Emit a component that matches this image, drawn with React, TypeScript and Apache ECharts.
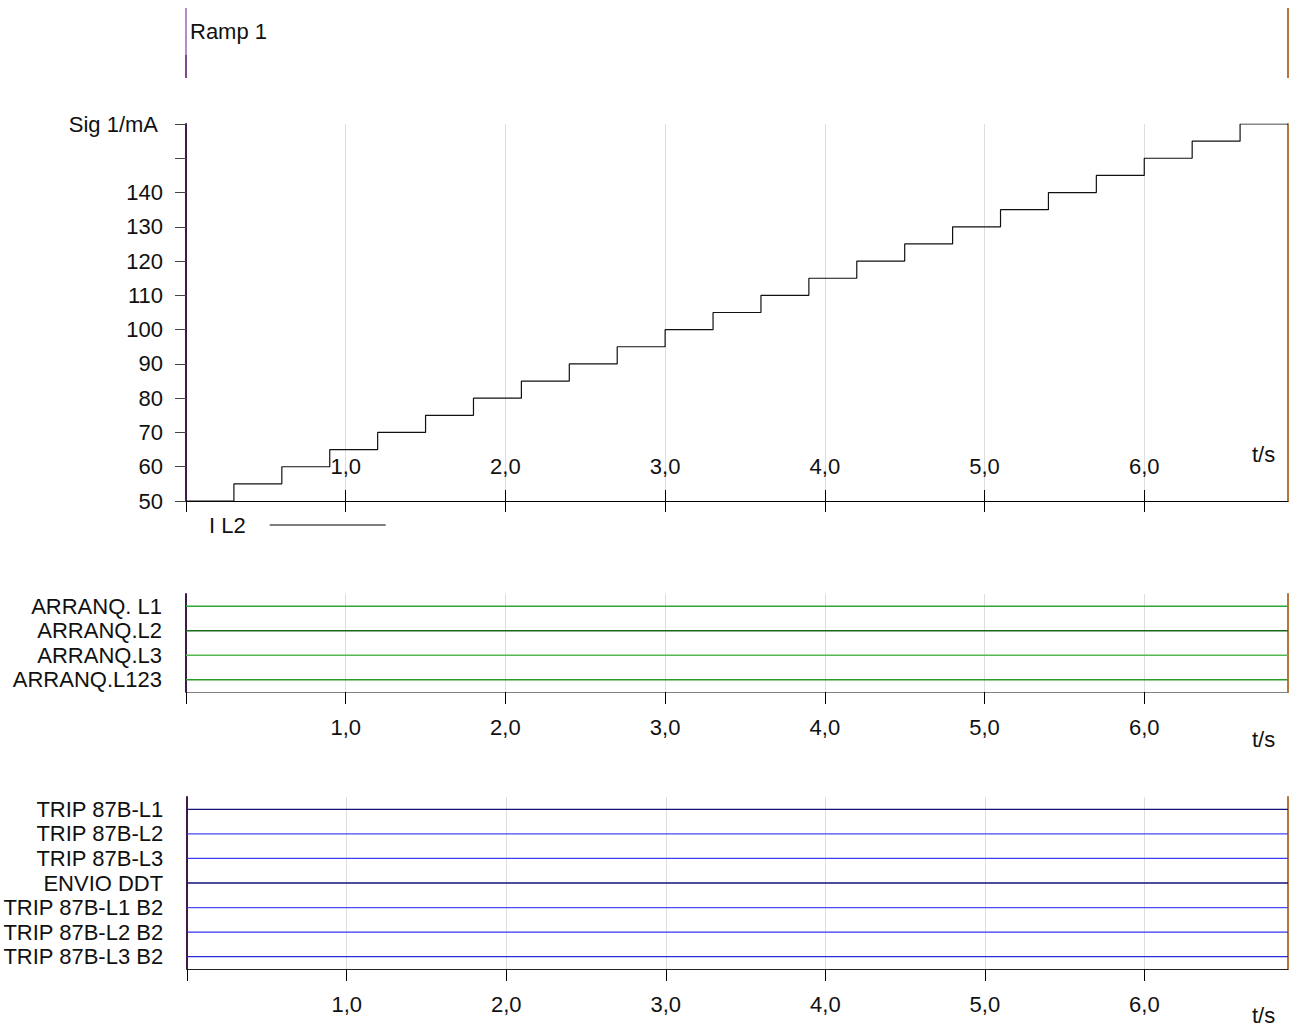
import React, { useEffect, useRef } from 'react';
import * as echarts from 'echarts';

// ---------- data ----------
const rampTimes = [0, 0.3, 0.6, 0.9, 1.2, 1.5, 1.8, 2.1, 2.4, 2.7, 3.0, 3.3, 3.6, 3.9, 4.2, 4.5, 4.8, 5.1, 5.4, 5.7, 6.0, 6.3, 6.6, 6.9];
const rampValues = [50, 55, 60, 65, 70, 75, 80, 85, 90, 95, 100, 105, 110, 115, 120, 125, 130, 135, 140, 145, 150, 155, 160, 160];
const T_MAX = 6.9;
const xTickValues = [0, 1, 2, 3, 4, 5, 6];
const xLabelValues = [1, 2, 3, 4, 5, 6];
const Y_MIN = 50;
const Y_MAX = 160;
const Y_INTERVAL = 10;

const startSignals = ['ARRANQ. L1', 'ARRANQ.L2', 'ARRANQ.L3', 'ARRANQ.L123'];
const startColors = ['#33a533', '#1a6a1a', '#55b855', '#2a9a2a'];
const tripSignals = ['TRIP 87B-L1', 'TRIP 87B-L2', 'TRIP 87B-L3', 'ENVIO DDT', 'TRIP 87B-L1 B2', 'TRIP 87B-L2 B2', 'TRIP 87B-L3 B2'];
const tripColors = ['#12127a', '#4646f5', '#3c3cf0', '#12127a', '#4a4af8', '#3636ee', '#2a2ad6'];
const signalTimes = [0, 6.9];

const FONT = '"Liberation Sans", Arial, Helvetica, sans-serif';
const FS = 22;
const TXT = '#111';
const PURPLE = '#3d1a4a';
const ORANGE = '#b5763a';

export default function App() {
  const ref = useRef<HTMLDivElement>(null);
  useEffect(() => {
    const chart = echarts.init(ref.current!, null, { renderer: 'svg' });
    const fmtX = (v: number) =>
      v > 0 && Math.abs(v - Math.round(v)) < 1e-6 ? v.toFixed(1).replace('.', ',') : '';

    const bottomX = (gridIndex: number, lineColor: string) => ({
      type: 'value',
      gridIndex,
      min: 0,
      max: T_MAX,
      interval: 1,
      position: 'bottom',
      axisLine: { show: true, onZero: false, lineStyle: { color: lineColor, width: 1 } },
      axisTick: { show: true, length: 12, customValues: xTickValues, lineStyle: { color: '#000' } },
      axisLabel: { margin: 24, fontSize: FS, color: TXT, fontFamily: FONT, formatter: fmtX, customValues: xLabelValues },
      splitLine: { show: true, lineStyle: { color: '#dedede', width: 1 } },
    });

    const catLeft = (gridIndex: number, data: string[]) => ({
      type: 'category',
      gridIndex,
      data,
      inverse: true,
      position: 'left',
      axisLine: { show: true, onZero: false, lineStyle: { color: PURPLE, width: 2 } },
      axisTick: { show: false },
      axisLabel: { interval: 0, margin: 24, fontSize: FS, color: TXT, fontFamily: FONT },
      splitLine: { show: false },
    });
    const catRight = (gridIndex: number, data: string[]) => ({
      type: 'category',
      gridIndex,
      data,
      inverse: true,
      position: 'right',
      axisLine: { show: true, onZero: false, lineStyle: { color: ORANGE, width: 2 } },
      axisTick: { show: false },
      axisLabel: { show: false },
      splitLine: { show: false },
    });

    const option: any = {
      animation: false,
      textStyle: { fontFamily: FONT },
      grid: [
        { left: 186, right: 1, top: 124, height: 377 },
        { left: 186, right: 1, top: 594, height: 98 },
        { left: 186, right: 1, top: 797, height: 172 },
      ],
      legend: {
        data: [{ name: 'I L2', icon: 'rect' }],
        left: 204,
        top: 509,
        align: 'right',
        itemWidth: 116,
        itemHeight: 1,
        itemStyle: { color: '#000' },
        textStyle: { fontSize: FS, color: TXT, fontFamily: FONT, padding: [0, 19, 0, 0] },
      },
      xAxis: [
        {
          type: 'value',
          gridIndex: 0,
          min: 0,
          max: T_MAX,
          interval: 1,
          position: 'bottom',
          axisLine: { show: true, onZero: false, lineStyle: { color: '#000', width: 1 } },
          axisTick: { show: true, length: 11, customValues: xTickValues, lineStyle: { color: '#000' } },
          axisLabel: { inside: true, margin: 24, fontSize: FS, color: TXT, fontFamily: FONT, formatter: fmtX, customValues: xLabelValues },
          splitLine: { show: true, lineStyle: { color: '#dedede', width: 1 } },
        },
        {
          type: 'value',
          gridIndex: 0,
          min: 0,
          max: T_MAX,
          interval: 1,
          position: 'bottom',
          axisLine: { show: false },
          axisTick: { show: true, inside: true, length: 11, customValues: xLabelValues, lineStyle: { color: '#000' } },
          axisLabel: { show: false },
          splitLine: { show: false },
        },
        bottomX(1, '#808080'),
        bottomX(2, '#222'),
      ],
      yAxis: [
        {
          type: 'value',
          gridIndex: 0,
          min: Y_MIN,
          max: Y_MAX,
          interval: Y_INTERVAL,
          position: 'left',
          axisLine: { show: true, onZero: false, lineStyle: { color: PURPLE, width: 2 } },
          axisTick: { show: true, length: 11, lineStyle: { color: '#444' } },
          axisLabel: {
            margin: 23,
            fontSize: FS,
            color: TXT,
            fontFamily: FONT,
            formatter: (v: number) => (v === 150 ? '' : v === 160 ? '{u|Sig 1/mA}' : String(v)),
            rich: { u: { fontSize: FS, color: TXT, fontFamily: FONT, padding: [0, 5, 0, 0] } },
          },
          splitLine: { show: false },
        },
        {
          type: 'value',
          gridIndex: 0,
          min: Y_MIN,
          max: Y_MAX,
          interval: Y_INTERVAL,
          position: 'right',
          axisLine: { show: true, onZero: false, lineStyle: { color: ORANGE, width: 2 } },
          axisTick: { show: false },
          axisLabel: { show: false },
          splitLine: { show: false },
        },
        catLeft(1, startSignals),
        catRight(1, startSignals),
        catLeft(2, tripSignals),
        catRight(2, tripSignals),
      ],
      series: [
        {
          name: 'I L2',
          type: 'line',
          xAxisIndex: 0,
          yAxisIndex: 0,
          step: 'end',
          symbol: 'none',
          silent: true,
          data: rampTimes.map((t, i) => [t, rampValues[i]]),
          lineStyle: { color: '#111', width: 1.2 },
          itemStyle: { color: '#000' },
        },
        ...startSignals.map((name, i) => ({
          name,
          type: 'line',
          xAxisIndex: 2,
          yAxisIndex: 2,
          symbol: 'none',
          silent: true,
          data: signalTimes.map((t) => [t, name]),
          lineStyle: { color: startColors[i], width: 1.3 },
        })),
        ...tripSignals.map((name, i) => ({
          name,
          type: 'line',
          xAxisIndex: 3,
          yAxisIndex: 4,
          symbol: 'none',
          silent: true,
          data: signalTimes.map((t) => [t, name]),
          lineStyle: { color: tripColors[i], width: 1.3 },
        })),
      ],
      graphic: [
        { type: 'line', shape: { x1: 186, y1: 8, x2: 186, y2: 55 }, style: { stroke: '#b98cc8', lineWidth: 2 } },
        { type: 'line', shape: { x1: 186, y1: 55, x2: 186, y2: 78 }, style: { stroke: '#7a4a8a', lineWidth: 2 } },
        { type: 'line', shape: { x1: 1288, y1: 8, x2: 1288, y2: 78 }, style: { stroke: ORANGE, lineWidth: 2 } },
        { type: 'text', x: 190, y: 31, style: { text: 'Ramp 1', fontSize: FS, fontFamily: FONT, fill: TXT, align: 'left', verticalAlign: 'middle' } },
        { type: 'text', x: 1252, y: 454, style: { text: 't/s', fontSize: FS, fontFamily: FONT, fill: TXT, align: 'left', verticalAlign: 'middle' } },
        { type: 'text', x: 1252, y: 739, style: { text: 't/s', fontSize: FS, fontFamily: FONT, fill: TXT, align: 'left', verticalAlign: 'middle' } },
        { type: 'text', x: 1252, y: 1015, style: { text: 't/s', fontSize: FS, fontFamily: FONT, fill: TXT, align: 'left', verticalAlign: 'middle' } },
      ],
    };
    chart.setOption(option);
    return () => chart.dispose();
  }, []);
  return (
    <div
      ref={ref}
      style={{ position: 'absolute', left: 0, top: 0, width: 1289, height: 1026, background: '#fff' }}
    />
  );
}
